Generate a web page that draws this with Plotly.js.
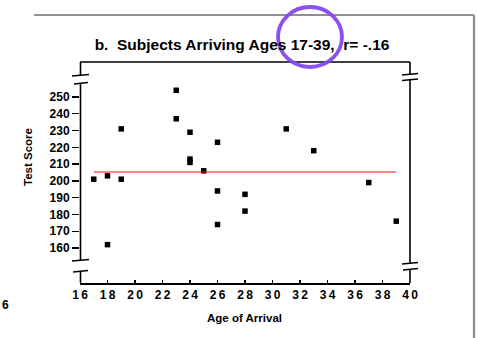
<!DOCTYPE html>
<html>
<head>
<meta charset="utf-8">
<script src="https://cdn.plot.ly/plotly-3.0.1.min.js"></script>
<style>html,body{margin:0;padding:0;background:#fff;}#chart{width:478px;height:338px;}</style>
</head>
<body>
<div id="chart"></div>
<script>
// Data
const ageOfArrival = [17, 18, 18, 19, 19, 23, 23, 24, 24, 24, 25, 26, 26, 26, 28, 28, 31, 33, 37, 39];
const testScore    = [201, 203, 162, 231, 201, 254, 237, 229, 213, 211, 206, 223, 194, 174, 192, 182, 231, 218, 199, 176];
const fitLineX = [17, 39];
const fitLineY = [205.3, 205.3];
const xTickVals = [16, 18, 20, 22, 24, 26, 28, 30, 32, 34, 36, 38, 40];
const xTickText = ["1\u20096", "1\u20098", "2\u20090", "2\u20092", "2\u20094", "2\u20096", "2\u20098", "3\u20090", "3\u20092", "3\u20094", "3\u20096", "3\u20098", "4\u20090"];
const yTickVals = [160, 170, 180, 190, 200, 210, 220, 230, 240, 250];
const yTickText = ["160", "170", "180", "190", "200", "210", "220", "230", "240", "250"];
const titleText = "b.  Subjects Arriving Ages 17-39,  r= -.16";
const xTitle = "Age of Arrival";
const yTitle = "Test Score";

const F = "Liberation Sans, Arial, Helvetica, sans-serif";
const W = 330, H = 221, L = 80, T = 62;
const px = x => (x - L) / W;
const py = y => (T + H - y) / H;

const blk = {color: "#000", width: 1.6};
function seg(x0, y0, x1, y1, line) {
  return {type: "line", xref: "paper", yref: "paper", x0: px(x0), y0: py(y0), x1: px(x1), y1: py(y1), line: line || blk};
}
const shapes = [
  // top frame
  seg(80, 62, 410, 62),
  // left axis with breaks
  seg(80.5, 62, 80.5, 75), seg(80.5, 83, 80.5, 260), seg(80.5, 271, 80.5, 283),
  seg(72, 76, 89, 74.5), seg(74, 84, 88, 82.5), seg(72, 261, 89, 259.5), seg(73, 272, 88, 270.5),
  // right axis with breaks
  seg(410, 62, 410, 74), seg(410, 80, 410, 263), seg(410, 269, 410, 283),
  seg(402, 75, 418, 73.5), seg(402, 80.5, 418, 79), seg(402, 264, 418, 262.5), seg(403, 270, 418, 268.5),
  // page artifacts
  seg(34, 15, 474, 15, {color: "#222", width: 1.2}),
  seg(474, 15, 474, 338, {color: "#8a8a8a", width: 2.2}),
  {type: "circle", xref: "paper", yref: "paper", x0: px(278), y0: py(67), x1: px(342), y1: py(7),
   line: {color: "#8448ee", width: 3.8}, opacity: 0.95}
];

const traces = [
  {x: ageOfArrival, y: testScore, type: "scatter", mode: "markers",
   marker: {symbol: "square", size: 5.5, color: "#000"}, hoverinfo: "x+y"},
  {x: fitLineX, y: fitLineY, type: "scatter", mode: "lines",
   line: {color: "#ff0d0d", width: 1.2}}
];

const layout = {
  width: 478, height: 338,
  margin: {l: L, r: 478 - L - W, t: T, b: 338 - T - H, pad: 0},
  paper_bgcolor: "#fff", plot_bgcolor: "#fff",
  showlegend: false,
  font: {family: F, color: "#000"},
  title: {text: "<b>" + titleText + "</b>", font: {family: F, size: 15.5, color: "#000"},
          x: 242 / 478, xanchor: "center", y: 1 - 45 / 338, yanchor: "middle", yref: "container"},
  xaxis: {range: [16, 40], tickmode: "array", tickvals: xTickVals, ticktext: xTickText,
          ticks: "inside", ticklen: 3, tickwidth: 1.4, tickcolor: "#000",
          showline: true, linecolor: "#000", linewidth: 1.6, mirror: false,
          showgrid: false, zeroline: false,
          tickfont: {family: F, size: 12, color: "#000", weight: "bold"}},
  yaxis: {range: [139.14, 270.86], tickmode: "array", tickvals: yTickVals, ticktext: yTickText,
          ticks: "outside", ticklen: 7, tickwidth: 1.4, tickcolor: "#000",
          showline: false, showgrid: false, zeroline: false,
          tickfont: {family: F, size: 12, color: "#000", weight: "bold"}},
  shapes: shapes,
  annotations: [
    {text: "<b>" + xTitle + "</b>", xref: "paper", yref: "paper", x: px(244), y: py(318),
     xanchor: "center", yanchor: "middle", showarrow: false, font: {family: F, size: 11.5, color: "#000"}},
    {text: "<b>" + yTitle + "</b>", xref: "paper", yref: "paper", x: px(28), y: py(157),
     xanchor: "center", yanchor: "middle", textangle: -90, showarrow: false, font: {family: F, size: 11.5, color: "#000"}},
    {text: "<b>6</b>", xref: "paper", yref: "paper", x: px(5), y: py(305),
     xanchor: "center", yanchor: "middle", showarrow: false, font: {family: F, size: 12, color: "#000"}}
  ]
};

Plotly.newPlot("chart", traces, layout, {displayModeBar: false, staticPlot: true});
</script>
</body>
</html>
